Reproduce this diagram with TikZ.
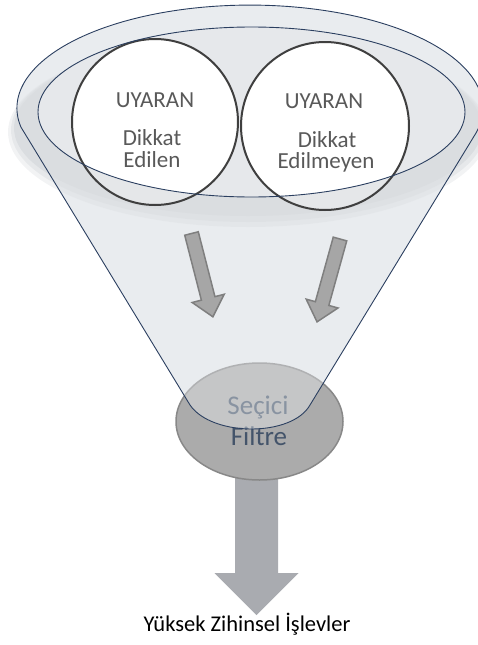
\documentclass[tikz,border=0pt]{standalone}
\usepackage{fontspec}
\setmainfont{Carlito}
\usetikzlibrary{shapes.geometric}
\definecolor{funnelc}{HTML}{E9ECEF}
\definecolor{shadowc}{HTML}{DADDE0}
\definecolor{innerc}{HTML}{E6E8EB}
\definecolor{navy}{HTML}{2B3F60}
\definecolor{circc}{HTML}{3F3F3F}
\definecolor{txtc}{HTML}{595959}
\definecolor{arrfill}{HTML}{A6A6A6}
\definecolor{arrdraw}{HTML}{7F7F7F}
\definecolor{bigarr}{HTML}{A9ABB0}
\definecolor{filtfill}{HTML}{ABABAB}
\definecolor{filtdraw}{HTML}{888888}
\definecolor{filttxt}{HTML}{44546A}
\begin{document}
\begin{tikzpicture}[x=1pt,y=1pt,
  stim/.style={circle, draw=circc, line width=2pt, minimum size=#1, inner sep=0pt},
  ctext/.style={text=txtc, anchor=base, font=\fontsize{23}{27}\selectfont, inner sep=0pt},
  ftext/.style={text=filttxt, anchor=base, font=\fontsize{27}{32}\selectfont, inner sep=0pt},
  smallarr/.pic={\path[fill=arrfill, draw=arrdraw, line width=1.5pt, line join=miter]
     (0,-7) -- (67,-7) -- (67,-16.5) -- (86,0) -- (67,16.5) -- (67,7) -- (0,7) -- cycle;},
  outline/.style={draw=navy, line width=0.9pt},
]
\useasboundingbox (0,0) rectangle (478,-645);
% big output arrow
\fill[bigarr] (235,-468) -- (278,-468) -- (278,-573) -- (298.5,-573) -- (256.5,-615)
  -- (214.5,-573) -- (235,-573) -- cycle;
% funnel body
\fill[funnelc] (21,-127) -- (190,-405) .. controls (212,-437) and (292,-437) .. (310,-405)
  -- (476,-133) arc[start angle=-14, end angle=190.6, x radius=233, y radius=103] -- cycle;
% shadow band (soft)
\fill[shadowc, opacity=0.35] (248,-132) ellipse[x radius=240, y radius=95];
\fill[shadowc, opacity=0.5] (248,-130) ellipse[x radius=237, y radius=92];
\fill[shadowc] (248,-128) ellipse[x radius=234, y radius=88];
% inner rim
\fill[innerc] (251.5,-112) ellipse[x radius=213.5, y radius=85];
% circles fill
\fill[white, opacity=0.3] (155,-122) circle[radius=83] (325,-126) circle[radius=84];
\begin{scope}
\clip (251.5,-112) ellipse[x radius=213.5, y radius=85];
\fill[white] (155,-122) circle[radius=83] (325,-126) circle[radius=84];
\end{scope}
\node[stim=166pt] (c1) at (155,-122) {};
\node[stim=168pt] (c2) at (325,-126) {};
\node[ctext] (u1) at (155,-107) {UYARAN};
\node[ctext] (d1) at (152,-145) {Dikkat};
\node[ctext] (e1) at (152,-167) {Edilen};
\node[ctext] (u2) at (324,-108) {UYARAN};
\node[ctext] (d2) at (327,-147) {Dikkat};
\node[ctext] (e2) at (326,-168) {Edilmeyen};
\draw[outline] (251.5,-112) ellipse[x radius=213.5, y radius=85];
% small arrows
\pic[rotate=-75.6] at (191.5,-233.5) {smallarr};
\pic[rotate=-105.5] at (340,-239) {smallarr};
% selective filter
\node[ellipse, fill=filtfill, draw=filtdraw, line width=1.5pt, minimum width=167pt,
  minimum height=117pt, inner sep=0pt] (filt) at (259.5,-421.5) {};
\node[ftext] (sec) at (258,-414) {Seçici};
\node[ftext] (fil) at (259,-445) {Filtre};
\begin{scope}
\clip (259.5,-421.5) ellipse[x radius=86, y radius=61];
\fill[funnelc, opacity=0.42] (21,-127) -- (190,-405) .. controls (212,-437) and (292,-437) .. (310,-405)
  -- (476,-133) arc[start angle=-14, end angle=190.6, x radius=233, y radius=103] -- cycle;
\end{scope}
% funnel outline
\draw[outline] (476,-133) arc[start angle=-14, end angle=190.6, x radius=233, y radius=103]
  -- (190,-405) .. controls (212,-437) and (292,-437) .. (310,-405) -- cycle;
% output label
\node[anchor=base, font=\fontsize{22.5}{27}\selectfont, inner sep=0pt] (out) at (247,-631)
  {Yüksek Zihinsel İşlevler};
\end{tikzpicture}
\end{document}
